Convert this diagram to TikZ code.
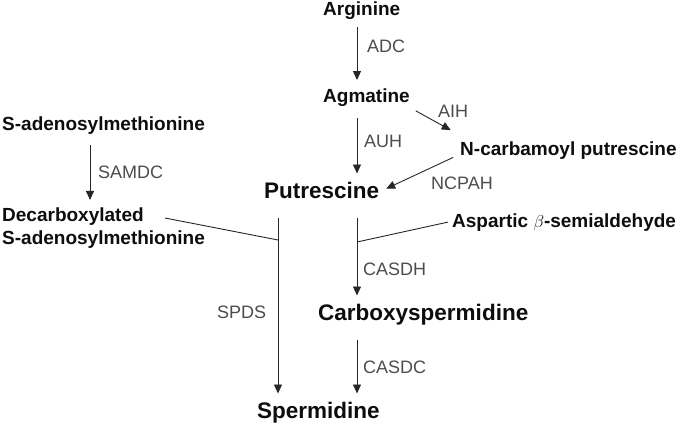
\documentclass[tikz,border=0pt]{standalone}
\usepackage{fontspec}
\setmainfont{Liberation Sans}
\usetikzlibrary{arrows.meta}
\begin{document}
\begin{tikzpicture}[x=1pt, y=-1pt,
  cpd/.style={anchor=base west, inner xsep=4pt, inner ysep=8pt, text=black!95,
    font=\fontsize{19}{23}\selectfont\bfseries},
  bigcpd/.style={cpd, font=\fontsize{22.5}{26}\selectfont\bfseries},
  enz/.style={anchor=base west, inner sep=0pt, text=black!70,
    font=\fontsize{18}{20}\selectfont},
  rxn/.style={-{Triangle[width=8pt, length=9pt]}, line width=0.9pt, black!85},
  joinline/.style={line width=0.9pt, black!85}]

\useasboundingbox (0,0) rectangle (680,426);

\coordinate (samcol) at (90,0);
\coordinate (j1) at (278,240);
\coordinate (j2) at (357,242);
\coordinate (decend) at (165,218);

\node[cpd] (arg) at (319,15) {Arginine};
\node[cpd] (agm) at (319,102) {Agmatine};
\node[cpd] (ncp) at (456,155) {N-carbamoyl putrescine};
\node[bigcpd] (put) at (260,198) {Putrescine};
\node[cpd] (asp) at (448,227) {Aspartic $\beta$-semialdehyde};
\node[bigcpd] (cbx) at (314,320) {Carboxyspermidine};
\node[bigcpd] (spd) at (253,418) {Spermidine};
\node[cpd] (sam) at (-2,130) {S-adenosylmethionine};
\node[cpd, anchor=west, align=left] (dec) at (-2,228.5)
  {Decarboxylated\\S-adenosylmethionine};

\node[enz] (adc) at (367,52) {ADC};
\node[enz] (auh) at (364,147) {AUH};
\node[enz] (aih) at (438,117) {AIH};
\node[enz] (ncpah) at (431,189) {NCPAH};
\node[enz] (casdh) at (363,275) {CASDH};
\node[enz] (casdc) at (363,373) {CASDC};
\node[enz] (spds) at (217,318) {SPDS};
\node[enz] (samdc) at (98,178) {SAMDC};

\draw[rxn] (arg.south -| j2) -- (agm.north -| j2);
\draw[rxn, shorten <=4pt] (agm.south -| j2) -- (put.north -| j2);
\draw[rxn, shorten <=2pt, shorten >=6pt] (agm.-15) -- (ncp.north west);
\draw[rxn, shorten <=3pt, shorten >=3pt] ([yshift=-6pt]ncp.west) -- (put.east);
\draw[rxn, shorten <=12pt] (put.south -| j2) -- (cbx.north -| j2);
\draw[rxn, shorten <=7pt] (cbx.south -| j2) -- (spd.north -| j2);
\draw[rxn, shorten <=12pt] (put.south -| j1) -- (spd.north -| j1);
\draw[rxn, shorten <=3pt] (sam.south -| samcol) -- (dec.north -| samcol);
\draw[joinline] (decend) -- (j1);
\draw[joinline] (asp.west) -- (j2);
\end{tikzpicture}
\end{document}
